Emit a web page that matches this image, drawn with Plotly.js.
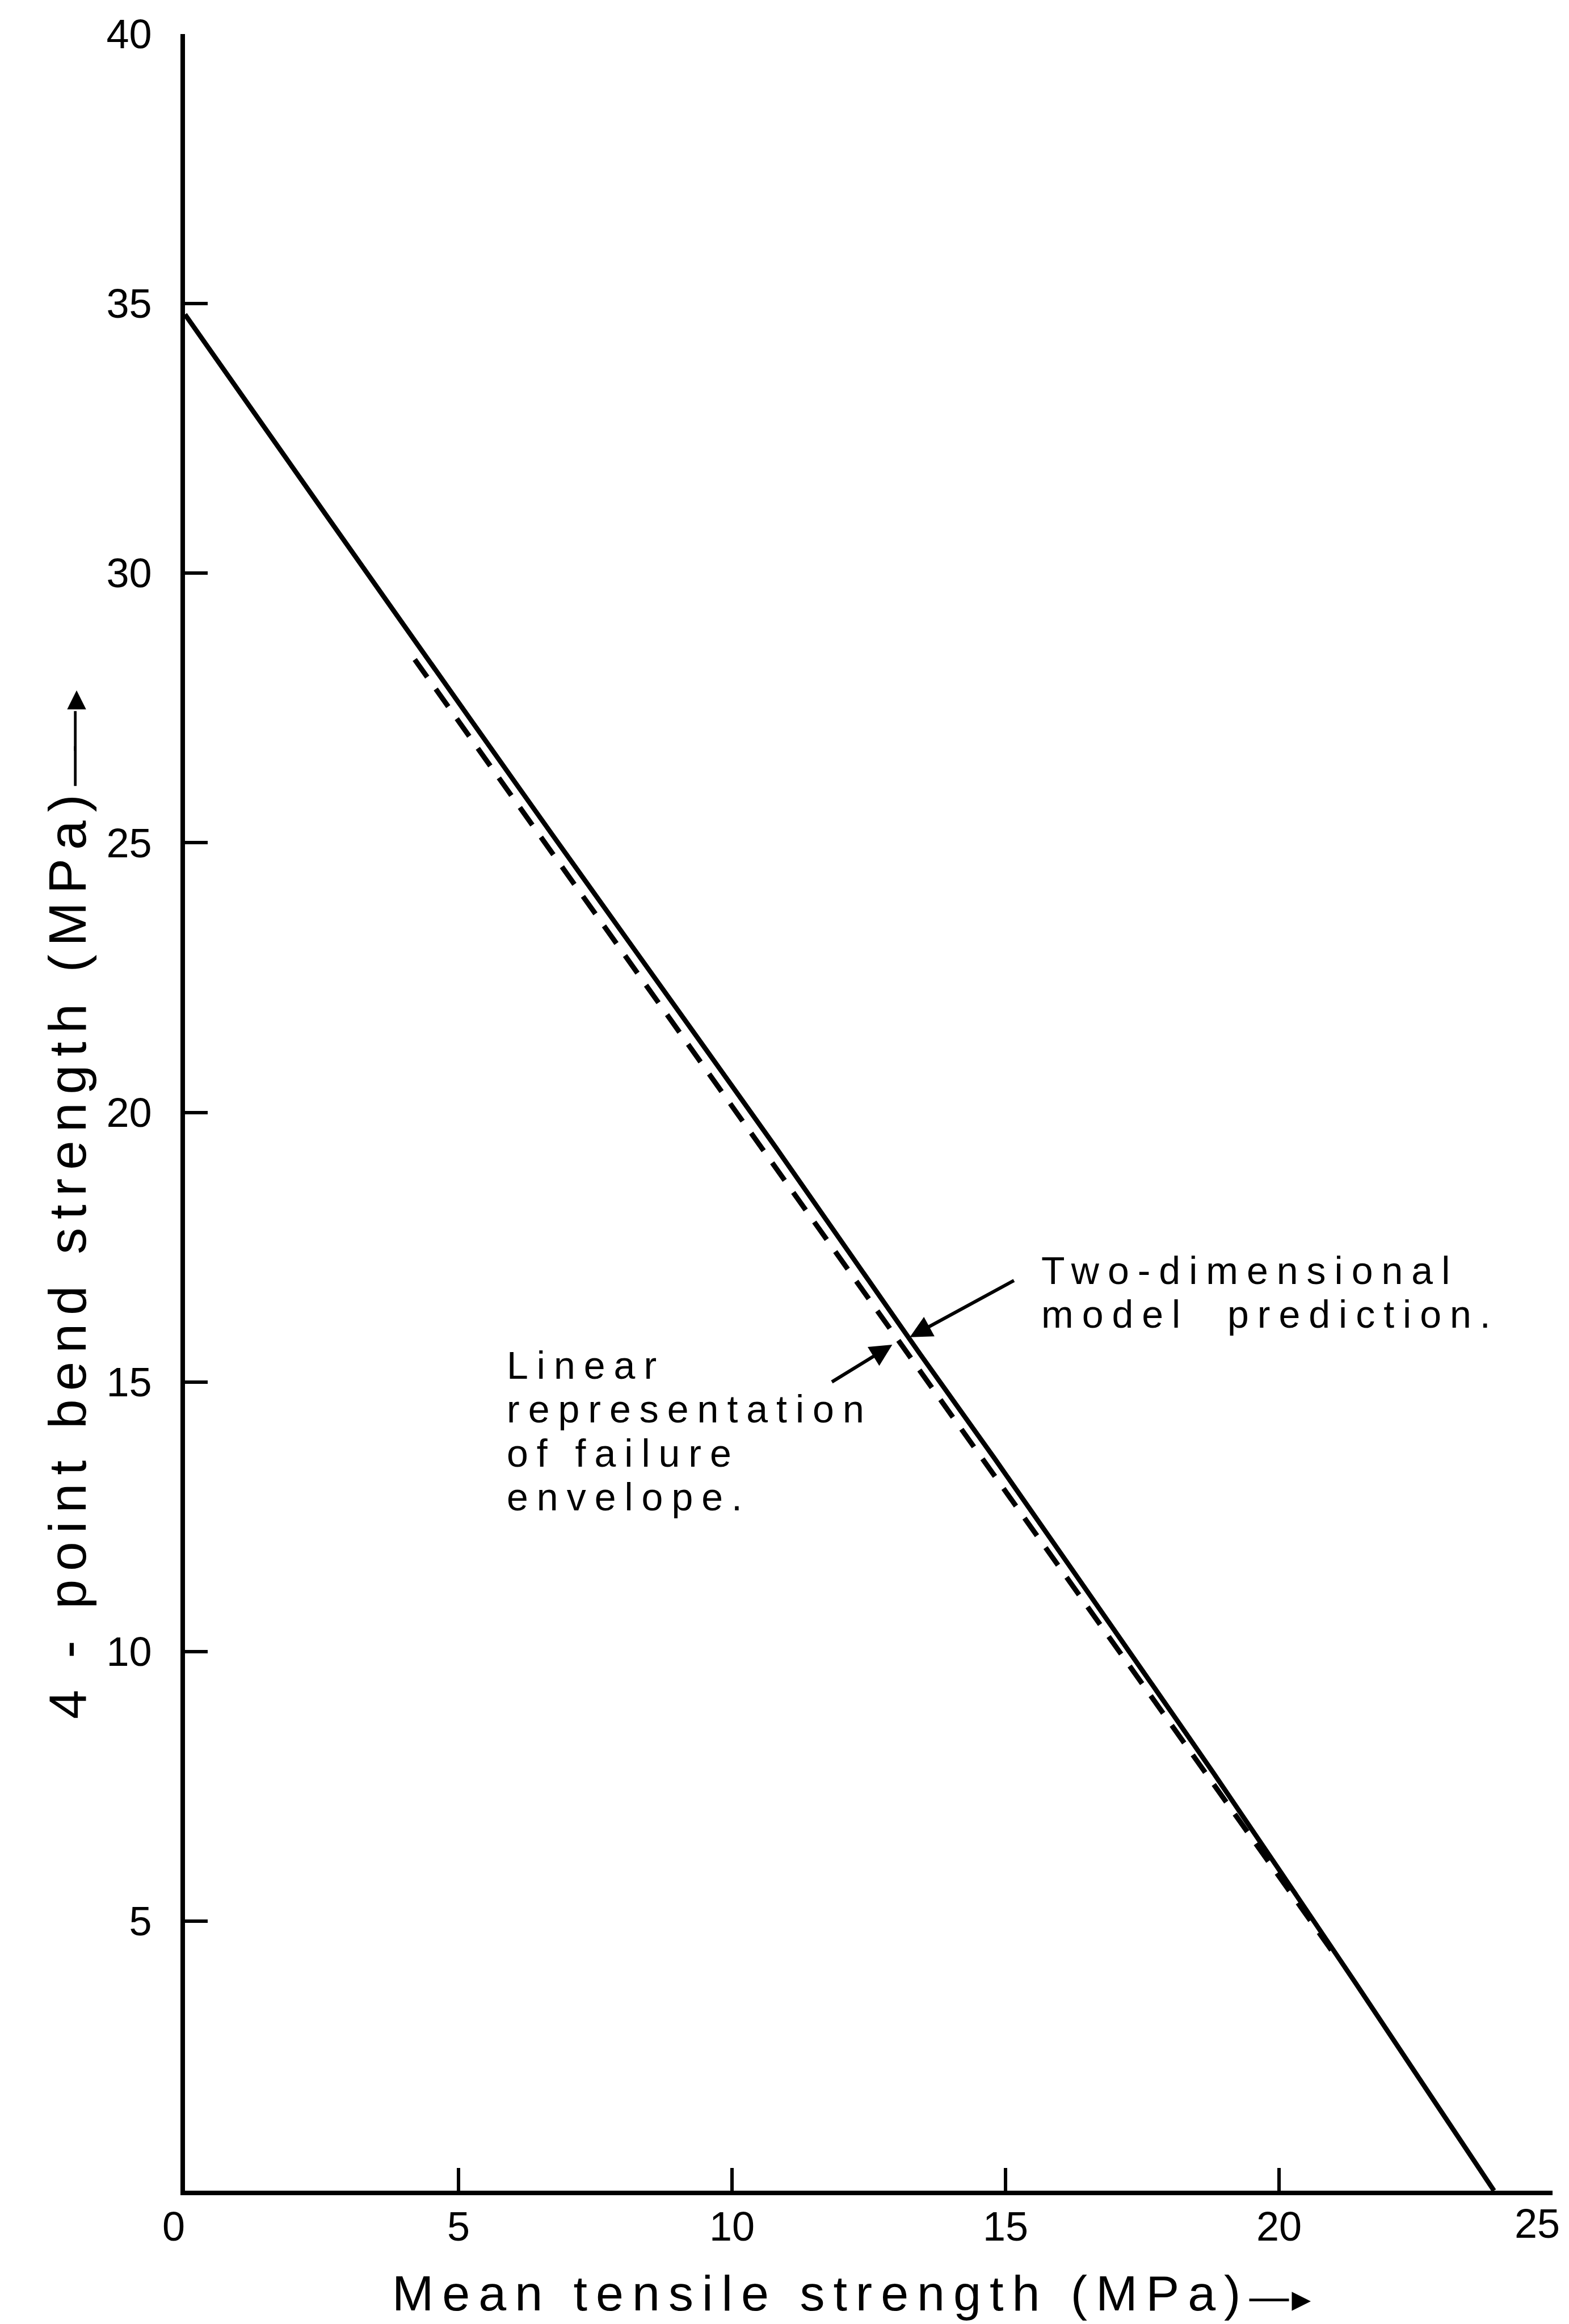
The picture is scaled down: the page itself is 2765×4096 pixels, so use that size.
<!DOCTYPE html>
<html>
<head>
<meta charset="utf-8">
<script src="https://cdn.plot.ly/plotly-3.0.1.min.js"></script>
<style>
html, body { margin: 0; padding: 0; background: #ffffff; }
#chart { width: 2765px; height: 4096px; }
.annotation-text { letter-spacing: 13px; }
</style>
</head>
<body>
<div id="chart"></div>
<script>
// Two-dimensional model prediction (solid line)
const modelX = [0, 2.6, 5.35, 6.75, 9.5, 10.8, 13.45, 14.8, 17.5, 18.8, 21.4, 23.93];
const modelY = [34.8, 31.05, 27.1, 25.1, 21.2, 19.35, 15.5, 13.58, 9.65, 7.75, 3.85, 0];

// Linear representation of failure envelope (dashed line), visible part
const linearX = [4.2, 21.0];
const linearY = [28.4, 4.4];

// Axis ticks
const xTickVals = [0, 5, 10, 15, 20, 25];
const xTickText = ["0\u00a0\u00a0", "5", "10", "15", "20", ""];
const xLastTickLabel = "25"; // drawn at x = 25, nudged left as in the original so it stays inside the page
const yTickVals = [5, 10, 15, 20, 25, 30, 35, 40];
const yTickText = ["5", "10", "15", "20", "25", "30", "35", "40"];

// Texts
const xArrow = "<span style=\"font-size:70px;letter-spacing:-6px\">\u2014</span><span style=\"font-size:56px;letter-spacing:0px\">\u25BA</span>";
const yArrow = "<span style=\"font-size:70px;letter-spacing:-8px\">\u2014\u2014</span><span style=\"font-size:56px;letter-spacing:0px\">\u25BA</span>";
const xTitleText = "<span style=\"letter-spacing:15px\">Mean\u00a0tensile\u00a0strength\u00a0(MPa)</span>" + xArrow;
const yTitleText = "<span style=\"letter-spacing:15px\">4\u00a0-\u00a0point\u00a0bend\u00a0strength\u00a0(MPa)</span>" + yArrow;
const modelLabelLines = ["Two-dimensional", "model\u00a0\u00a0prediction."];
const linearLabelLines = ["Linear", "representation", "of\u00a0failure", "envelope."];
// label block positions (data coordinates of left edge / vertical centre)
const modelLabelPos = [15.63, 16.66];
const linearLabelPos = [5.86, 14.09];

// Arrow pointers: [tipX, tipY, tailX, tailY]
const modelArrow = [13.25, 15.83, 15.17, 16.89];
const linearArrow = [12.93, 15.69, 11.81, 14.99];

const FONT = "Liberation Sans, Arial, DejaVu Sans, sans-serif";
const LABEL_PX = 68;     // glyph size of the labels
const LABEL_BASE = 59.5; // base size -> line pitch of 1.3 * 59.5 px

function block(lines) {
  return lines.map(t => "<span style=\"font-size:" + LABEL_PX + "px;letter-spacing:15px\">" + t + "</span>").join("<br>");
}

const traces = [
  {
    x: modelX, y: modelY, type: "scatter", mode: "lines",
    line: { color: "#000000", width: 8.5, shape: "spline", smoothing: 0.6 },
    hoverinfo: "skip", showlegend: false
  },
  {
    x: linearX, y: linearY, type: "scatter", mode: "lines",
    line: { color: "#000000", width: 9, dash: "38px,26px" },
    hoverinfo: "skip", showlegend: false
  }
];

const annotations = [
  {
    text: block(modelLabelLines), x: modelLabelPos[0], y: modelLabelPos[1],
    xref: "x", yref: "y", xanchor: "left", yanchor: "middle",
    showarrow: false, align: "left",
    font: { family: FONT, size: LABEL_BASE, color: "#000000" }
  },
  {
    text: block(linearLabelLines), x: linearLabelPos[0], y: linearLabelPos[1],
    xref: "x", yref: "y", xanchor: "left", yanchor: "middle",
    showarrow: false, align: "left",
    font: { family: FONT, size: LABEL_BASE, color: "#000000" }
  }
];
[modelArrow, linearArrow].forEach(a => annotations.push({
  text: "", x: a[0], y: a[1], ax: a[2], ay: a[3],
  xref: "x", yref: "y", axref: "x", ayref: "y",
  showarrow: true, arrowhead: 2, arrowsize: 1.3, arrowwidth: 6, arrowcolor: "#000000",
  standoff: 0, startstandoff: 0
}));
annotations.push({
  text: "<span style=\"letter-spacing:0px\">" + xLastTickLabel + "</span>",
  x: xTickVals[xTickVals.length - 1], xref: "x", xshift: -27,
  y: -0.0153, yref: "paper", xanchor: "center", yanchor: "middle", showarrow: false,
  font: { family: FONT, size: 72, color: "#000000" }
});
annotations.push({
  text: xTitleText, xref: "paper", yref: "paper", x: 0.1506, y: -0.0474,
  xanchor: "left", yanchor: "middle", showarrow: false,
  font: { family: FONT, size: 88, color: "#000000" }
});
annotations.push({
  text: yTitleText, xref: "paper", yref: "paper", x: -0.0859, y: 0.2181,
  xanchor: "center", yanchor: "bottom", textangle: -90, showarrow: false,
  font: { family: FONT, size: 93, color: "#000000" }
});

const layout = {
  width: 2765, height: 4096,
  margin: { l: 326, r: 29, t: 60, b: 235, pad: 0 },
  paper_bgcolor: "#ffffff", plot_bgcolor: "#ffffff",
  showlegend: false,
  xaxis: {
    range: [0, 25], tickvals: xTickVals, ticktext: xTickText,
    ticks: "inside", ticklen: 40, tickwidth: 6, tickcolor: "#000000",
    showline: true, linewidth: 8, linecolor: "#000000",
    showgrid: false, zeroline: false, ticklabelstandoff: -6,
    ticklabeloverflow: "allow",
    tickfont: { family: FONT, size: 72, color: "#000000" },
    fixedrange: true
  },
  yaxis: {
    range: [0, 40], tickvals: yTickVals, ticktext: yTickText,
    ticks: "inside", ticklen: 40, tickwidth: 6, tickcolor: "#000000",
    showline: true, linewidth: 8, linecolor: "#000000",
    showgrid: false, zeroline: false, ticklabelstandoff: 36,
    ticklabeloverflow: "allow",
    tickfont: { family: FONT, size: 72, color: "#000000" },
    fixedrange: true
  },
  annotations: annotations
};

Plotly.newPlot("chart", traces, layout, { staticPlot: true, displayModeBar: false });
</script>
</body>
</html>
